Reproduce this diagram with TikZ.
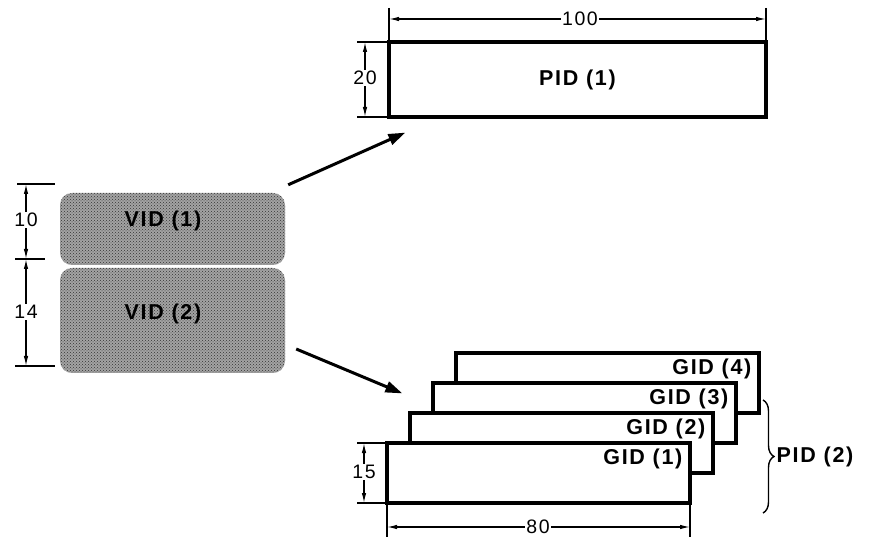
\documentclass[tikz,border=0pt]{standalone}
\usepackage{fontspec}
\setmainfont{Liberation Sans}
\newfontfamily\lblfont[LetterSpace=8]{Liberation Sans}
\usetikzlibrary{arrows.meta,patterns,decorations.pathreplacing}

\begin{document}
\begin{tikzpicture}[x=1pt,y=-1pt,
  box/.style={draw=black, line width=3.2pt, fill=white, inner sep=0pt},
  vidbox/.style={fill=gray!72, rounded corners=12pt, inner sep=0pt,
    postaction={pattern=crosshatch dots, pattern color=black!80}},
  lbl/.style={font=\lblfont\bfseries\fontsize{21.5}{25}\selectfont, inner sep=0pt},
  num/.style={font=\lblfont\fontsize{19.5}{23}\selectfont, fill=white, inner sep=1pt},
  dim/.style={line width=1.2pt, {Latex[length=10pt,width=4.5pt]}-{Latex[length=10pt,width=4.5pt]}},
  ext/.style={line width=1.2pt},
  bigarrow/.style={line width=3pt, -{Triangle[length=17pt,width=11pt]}}]
\useasboundingbox (0,0) rectangle (876,537);

% storage boxes on the left
\node [vidbox, minimum width=225pt, minimum height=72pt] (vid1) at (172.5,229) {};
\node [vidbox, minimum width=225pt, minimum height=105pt] (vid2) at (172.5,320.5) {};
\node [lbl] (vid1t) at (163,221) {VID (1)};
\node [lbl] (vid2t) at (163,314) {VID (2)};
\draw [ext] (17,184) -- (55,184);
\draw [ext] (15,259) -- (45,259);
\draw [ext] (15,366) -- (55,366);
\draw [dim] (26,184) -- (26,259);
\draw [dim] (26,259) -- (26,366);
\node [num] at (26,220) {10};
\node [num] at (26,312) {14};

% top: one page
\node [box, minimum width=377pt, minimum height=75pt] (pid1) at (577.5,79.5) {};
\node [lbl] (pid1t) at (pid1.center) {PID (1)};
\draw [ext] (389,8) -- (389,42);
\draw [ext] (766,8) -- (766,42);
\draw [dim] (389,19) -- (766,19);
\node [num] at (580,19) {100};
\draw [ext] (357,42) -- (389,42);
\draw [ext] (357,117) -- (389,117);
\draw [dim] (365,42) -- (365,117);
\node [num] at (365,78) {20};

% bottom: stack of pages
\foreach \i in {4,3,2,1} {
  \node [box, minimum width=303pt, minimum height=60pt] (gid\i)
    at ({538.5+(\i-1)*23},{473-(\i-1)*30}) {};
  \node [lbl, anchor=base east] (gid\i t) at ([shift={(-9,23)}]gid\i.north east) {GID (\i)};
}
\draw [ext] (357,443) -- (387,443);
\draw [ext] (357,503) -- (387,503);
\draw [dim] (364,443) -- (364,503);
\node [num] at (364,472) {15};
\draw [ext] (387,503) -- (387,537);
\draw [ext] (690,503) -- (690,537);
\draw [dim] (387,527) -- (690,527);
\node [num] at (538,527) {80};

\coordinate (brtop) at (763,400);
\coordinate (brbot) at (763,513);
\draw [line width=1.4pt, decorate, decoration={brace, amplitude=11pt}] (brtop) -- (brbot)
  node [lbl, midway, anchor=west, xshift=13pt] (pid2) {PID (2)};

% arrows
\draw [bigarrow] ([shift={(3,-8)}]vid1.north east) -- ([shift={(18,14)}]pid1.south west);
\draw [bigarrow] ([shift={(11,28.5)}]vid2.east) -- ([shift={(-29,12)}]gid3.north west);
\end{tikzpicture}
\end{document}
